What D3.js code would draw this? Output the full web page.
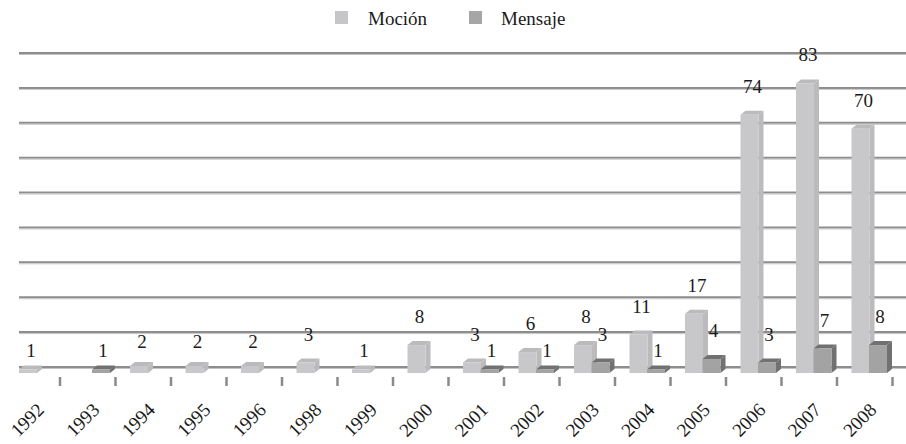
<!DOCTYPE html>
<html>
<head>
<meta charset="utf-8">
<script src="https://cdn.jsdelivr.net/npm/d3@7/dist/d3.min.js"></script>
<style>
  html, body { margin: 0; padding: 0; background: #ffffff; }
  svg { display: block; }
  svg text { font-family: "Liberation Serif", serif; }
</style>
</head>
<body>
<svg id="chart" width="906" height="444" xmlns="http://www.w3.org/2000/svg"></svg>
<script>
// ---- data ----
const years = ["1992","1993","1994","1995","1996","1998","1999","2000","2001","2002","2003","2004","2005","2006","2007","2008"];
const mocion = [1, 0, 2, 2, 2, 3, 1, 8, 3, 6, 8, 11, 17, 74, 83, 70];
const mensaje = [0, 1, 0, 0, 0, 0, 0, 0, 1, 1, 3, 1, 4, 3, 7, 8];
const gridValues = [0, 10, 20, 30, 40, 50, 60, 70, 80, 90];
const seriesNames = ["Moción", "Mensaje"];

// ---- layout ----
const svg = d3.select("#chart");
const W = 906;

const x = d3.scaleBand().domain(years).range([4.5, 892.5]);
const y = d3.scaleLinear().domain([0, 90]).range([367, 53]);

const frontColor = ["#c8c8ca", "#a3a3a3"];
const sideColor = ["#bbbbbd", "#717171"];
const legendColor = ["#c6c6c8", "#a6a6a6"];
const barW = 18, dx = 5, dy = 4, floorDrop = 6;
const seriesOffset = [14.5, 32];
const labelShift = [3, 2];

function serif(sel) {
  return sel.attr("font-family", "Liberation Serif").style("font-family", "Liberation Serif")
    .attr("font-size", 19).attr("fill", "#1a1a1a");
}

// gridlines
gridValues.forEach(v => {
  svg.append("line").attr("x1", 19).attr("x2", W).attr("y1", y(v)).attr("y2", y(v))
    .attr("stroke", "#8d8d8d").attr("stroke-width", 2);
  svg.append("line").attr("x1", 19).attr("x2", W).attr("y1", y(v) + 1.5).attr("y2", y(v) + 1.5)
    .attr("stroke", "#c4c4c4").attr("stroke-width", 1);
});

// ticks
years.forEach(yr => {
  const tx = x(yr) + x.bandwidth();
  svg.append("line").attr("x1", tx).attr("x2", tx).attr("y1", 377).attr("y2", 386)
    .attr("stroke", "#8a8a8a").attr("stroke-width", 2.5);
});

// bars
const labelItems = [];
[mocion, mensaje].forEach((values, s) => {
  values.forEach((v, i) => {
    if (!v) return;
    const x0 = x(years[i]) + seriesOffset[s];
    const top = y(v) + floorDrop;
    const bottom = y(0) + floorDrop;
    svg.append("polygon")
      .attr("points", [[x0 + barW, top], [x0 + barW + dx, top - dy], [x0 + barW + dx, bottom - dy], [x0 + barW, bottom]].join(" "))
      .attr("fill", sideColor[s]);
    svg.append("polygon")
      .attr("points", [[x0, top], [x0 + dx, top - dy], [x0 + barW + dx, top - dy], [x0 + barW, top]].join(" "))
      .attr("fill", sideColor[s]);
    svg.append("rect").attr("x", x0).attr("y", top).attr("width", barW).attr("height", bottom - top)
      .attr("fill", frontColor[s]);
    labelItems.push({ v: v, lx: x0 + barW / 2 + labelShift[s], ly: top - Math.min(22, 8 + 5 * v) });
  });
});

// value labels
labelItems.forEach(d => {
  serif(svg.append("text")).attr("x", d.lx).attr("y", d.ly).attr("text-anchor", "middle").text(d.v);
});

// x labels rotated -45°
years.forEach(yr => {
  const cx = x(yr) + x.bandwidth() / 2 + 13;
  const cy = 411;
  serif(svg.append("text"))
    .attr("x", 0).attr("y", 0).attr("text-anchor", "end")
    .attr("transform", "translate(" + cx + "," + cy + ") rotate(-45)")
    .style("transform", "translate(" + cx + "px," + cy + "px) rotate(-45deg)")
    .text(yr);
});

// legend
const legendSq = [335, 469];
const legendTx = [368, 501];
seriesNames.forEach((n, i) => {
  svg.append("rect").attr("x", legendSq[i]).attr("y", 11).attr("width", 13).attr("height", 13)
    .attr("fill", legendColor[i]);
  serif(svg.append("text")).attr("x", legendTx[i]).attr("y", 25).text(n);
});
</script>
</body>
</html>
